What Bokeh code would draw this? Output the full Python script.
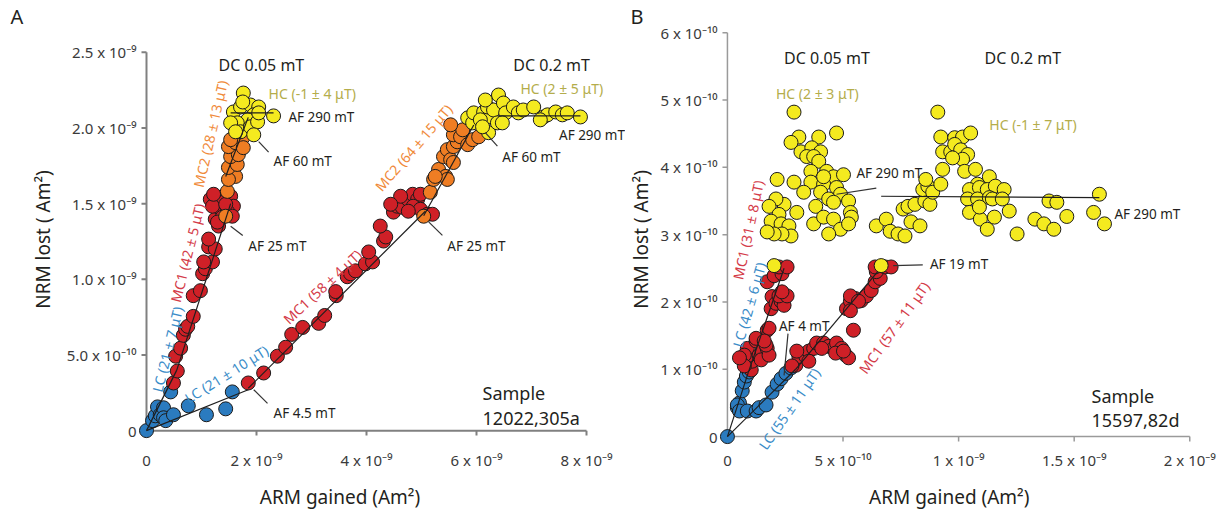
import math
from bokeh.plotting import figure
from bokeh.layouts import row
from bokeh.models import Range1d, FixedTicker, ColumnDataSource
from bokeh.core.properties import value
from bokeh.embed import file_html
from bokeh.resources import INLINE

FONT = "Noto Sans"
INK = "#231f20"
NBSP = "\u00a0"

# marker fills per demagnetisation component
FILL = {"LC": "#2b7bbf", "MC1": "#cf2027", "MC2": "#ef7d23", "HC": "#f4ea1f"}
# text colours for the component labels
TXT = {"LC": "#3a8cc8", "MC1": "#d43b49", "MC2": "#f08a3a", "HC": "#b4ad4b"}

# ---------------- Sample 12022,305a  (units of 1e-9 Am^2) ----------------
# DC 0.05 mT
a05_lc_arm = [0.00, 0.11, 0.16, 0.20, 0.25, 0.31, 0.31, 0.35, 0.44, 0.49]
a05_lc_nrm = [0.000, 0.066, 0.098, 0.157, 0.105, 0.151, 0.085, 0.066, 0.256, 0.105]
a05_mc1_arm = [0.49, 0.56, 0.53, 0.62, 0.67, 0.71, 0.75, 0.85, 0.85, 0.98, 1.02, 1.07, 1.20, 1.04,
               1.13, 1.25, 1.13, 1.31, 1.25, 1.16, 1.31, 1.40, 1.53, 1.58, 1.35, 1.47, 1.56, 1.38,
               1.29, 1.20, 1.44, 1.22]
a05_mc1_nrm = [0.315, 0.394, 0.492, 0.545, 0.630, 0.670, 0.689, 0.755, 0.892, 0.925, 1.037, 1.070,
               1.115, 1.115, 1.214, 1.201, 1.266, 1.352, 1.398, 1.529, 1.542, 1.509, 1.549, 1.483,
               1.463, 1.450, 1.417, 1.411, 1.378, 1.483, 1.496, 1.562]
a05_mc2_arm = [1.44, 1.47, 1.62, 1.49, 1.49, 1.65, 1.53, 1.67, 1.49, 1.62, 1.75, 1.53, 1.76]
a05_mc2_nrm = [1.417, 1.581, 1.680, 1.660, 1.739, 1.759, 1.811, 1.824, 1.877, 1.903, 1.936, 1.923, 1.870]
a05_hc_arm = [1.76, 1.58, 1.71, 1.89, 2.04, 2.31, 1.95, 1.84, 1.65, 1.53, 1.71, 1.89, 2.02, 2.04,
              1.62, 1.95, 1.75]
a05_hc_nrm = [2.231, 2.106, 2.139, 2.152, 2.139, 2.080, 2.087, 2.054, 2.034, 2.034, 1.975, 2.008,
              2.041, 2.100, 1.975, 1.955, 2.172]
# DC 0.2 mT
a20_lc_arm = [0.76, 1.09, 1.44, 1.56]
a20_lc_nrm = [0.164, 0.105, 0.144, 0.256]
a20_mc1_arm = [1.85, 2.13, 2.38, 2.53, 2.64, 2.84, 3.13, 3.24, 3.45, 3.44, 3.65, 3.71, 3.80, 3.98,
               4.11, 4.04, 4.31, 4.35, 4.25, 4.49, 4.56, 4.65, 4.75, 4.84, 4.93, 4.85, 4.98, 5.11,
               5.20, 4.76, 4.62, 4.98, 4.44]
a20_mc1_nrm = [0.315, 0.381, 0.492, 0.551, 0.636, 0.682, 0.709, 0.761, 0.892, 0.919, 1.017, 1.037,
               1.056, 1.102, 1.115, 1.181, 1.253, 1.280, 1.352, 1.444, 1.483, 1.476, 1.529, 1.562,
               1.529, 1.483, 1.463, 1.430, 1.430, 1.450, 1.549, 1.562, 1.496]
a20_mc2_arm = [5.04, 5.16, 5.22, 5.31, 5.44, 5.47, 5.25, 5.40, 5.47, 5.53, 5.58, 5.58, 5.65, 5.58,
               5.71, 5.84, 5.93, 5.75, 5.53, 6.04]
a20_mc2_nrm = [1.417, 1.575, 1.660, 1.726, 1.680, 1.660, 1.680, 1.811, 1.857, 1.791, 1.772, 1.877,
               1.909, 1.955, 1.942, 1.890, 1.923, 1.988, 2.021, 1.942]
a20_hc_arm = [5.84, 5.93, 5.95, 6.13, 6.25, 6.20, 6.07, 6.22, 6.40, 6.31, 6.16, 6.49, 6.53, 6.67,
              6.76, 6.85, 7.04, 7.22, 7.29, 7.44, 7.56, 7.65, 7.89, 7.16, 6.38, 6.11, 6.47]
a20_hc_nrm = [2.067, 2.034, 2.100, 2.106, 2.073, 2.139, 2.054, 1.969, 2.218, 2.119, 2.185, 2.165,
              2.100, 2.139, 2.100, 2.119, 2.139, 2.073, 2.087, 2.106, 2.087, 2.100, 2.073, 2.054,
              2.034, 2.008, 2.034]
# component fits (start/end of each line)
a_fit_x0 = [0.00, 0.55, 1.44, 1.53, 0.00, 1.85, 5.04, 6.40]
a_fit_y0 = [0.00, 0.40, 1.68, 2.10, 0.00, 0.28, 1.42, 2.08]
a_fit_x1 = [0.55, 1.53, 1.85, 2.31, 1.85, 5.07, 5.95, 7.89]
a_fit_y1 = [0.40, 1.50, 2.07, 2.10, 0.27, 1.45, 2.02, 2.08]
# leaders for the AF step labels
a_lead_x0 = [2.04, 1.53, 1.95, 6.16, 5.13]
a_lead_y0 = [1.91, 1.35, 0.27, 1.97, 1.38]
a_lead_x1 = [2.22, 1.75, 2.20, 6.38, 5.38]
a_lead_y1 = [1.84, 1.29, 0.18, 1.88, 1.29]
a_xticks = [0, 2, 4, 6, 8]
a_xtick_labels = ["0", "2 x 10⁻⁹", "4 x 10⁻⁹", "6 x 10⁻⁹", "8 x 10⁻⁹"]
a_yticks = [0, 0.5, 1.0, 1.5, 2.0, 2.5]
a_ytick_labels = ["0", "5.0 x 10⁻¹⁰", "1.0 x 10⁻⁹", "1.5 x 10⁻⁹", "2.0 x 10⁻⁹", "2.5 x 10⁻⁹"]

# ---------------- Sample 15597,82d  (units of 1e-10 Am^2) ----------------
b05_lc_arm = [0.00, 0.43, 0.52, 0.43, 0.52, 0.64, 0.73, 0.82, 0.94]
b05_lc_nrm = [0.00, 0.43, 0.50, 0.47, 0.38, 0.68, 0.81, 0.90, 0.96]
b05_mc1_arm = [1.03, 1.07, 0.94, 0.86, 1.24, 1.37, 1.50, 1.46, 1.72, 1.80, 1.67, 1.24, 1.72, 1.89,
               1.93, 2.10, 2.32, 2.45, 2.23, 2.58, 2.36, 1.72, 2.02, 2.36, 2.23, 2.58, 0.73, 0.73,
               0.52, 1.80, 1.59]
b05_mc1_nrm = [0.99, 1.12, 1.21, 1.31, 1.42, 1.21, 1.27, 1.14, 1.31, 1.21, 1.36, 1.46, 1.58, 1.90,
               2.08, 1.98, 2.01, 1.95, 2.09, 2.09, 2.15, 2.30, 2.39, 2.42, 2.52, 2.52, 1.21, 1.05,
               1.17, 1.61, 1.42]
b05_hc_arm = [2.02, 2.88, 3.09, 2.75, 3.95, 4.72, 3.18, 3.65, 4.03, 3.43, 3.73, 3.95, 2.15, 3.61,
              2.88, 3.61, 3.30, 4.29, 4.59, 5.02, 4.16, 4.72, 4.89, 4.03, 5.24, 3.82, 4.38, 2.45,
              2.10, 1.80, 3.00, 2.23, 1.89, 2.32, 2.66, 3.73, 4.16, 4.59, 5.32, 5.36, 4.89, 4.38,
              2.75, 2.36, 2.02, 1.72, 5.24, 4.59, 4.16]
b05_hc_nrm = [2.54, 4.82, 4.45, 4.37, 4.45, 4.51, 4.23, 4.29, 4.23, 4.16, 4.16, 4.09, 3.82, 3.94,
              3.78, 3.78, 3.63, 3.94, 3.86, 3.89, 3.75, 3.70, 3.60, 3.63, 3.50, 3.42, 3.53, 3.45,
              3.53, 3.42, 3.33, 3.30, 3.20, 3.16, 3.13, 3.16, 3.26, 3.23, 3.33, 3.26, 3.08, 3.01,
              2.98, 3.01, 3.01, 3.04, 3.16, 3.48, 3.86]
b20_lc_arm = [0.86, 1.24, 1.37, 1.67, 1.93, 2.15, 2.32, 2.53, 2.75]
b20_lc_nrm = [0.38, 0.38, 0.43, 0.47, 0.66, 0.78, 0.86, 0.94, 1.02]
b20_mc1_arm = [2.96, 3.09, 3.39, 3.52, 3.73, 3.86, 4.16, 4.38, 4.59, 4.72, 4.94, 5.11, 5.24, 4.68,
               4.08, 5.45, 5.15, 5.32, 5.54, 5.79, 6.01, 6.22, 6.39, 6.61, 6.44, 6.39, 6.82, 7.08,
               5.32, 5.67, 2.79, 3.52, 3.00, 5.02, 5.32]
b20_mc1_nrm = [1.06, 1.19, 1.19, 1.27, 1.31, 1.39, 1.39, 1.34, 1.31, 1.39, 1.31, 1.21, 1.17, 1.24,
               1.31, 1.58, 1.90, 2.01, 2.05, 2.02, 2.09, 2.17, 2.30, 2.35, 2.45, 2.52, 2.52, 2.52,
               2.09, 2.01, 1.05, 1.12, 1.27, 1.27, 1.87]
b20_hc_arm = [6.65, 6.44, 6.87, 7.04, 7.38, 7.68, 7.60, 7.81, 7.94, 8.33, 8.11, 8.54, 8.76, 8.45,
              8.67, 8.88, 8.58, 9.23, 9.31, 9.10, 9.23, 9.31, 9.66, 9.83, 10.17, 10.52, 9.83, 10.09,
              10.39, 10.17, 9.74, 10.26, 10.73, 11.33, 10.82, 10.47, 10.90, 11.24, 11.59, 11.97,
              10.39, 10.82, 11.33, 11.46, 11.89, 12.19, 10.47, 10.94, 11.55, 11.24, 10.90, 12.53,
              13.30, 13.69, 14.12, 13.91, 14.25, 14.68, 15.84, 16.09, 16.31]
b20_hc_nrm = [2.54, 3.13, 3.23, 3.05, 3.01, 2.98, 3.38, 3.42, 3.19, 3.13, 3.45, 3.50, 3.45, 3.67,
              3.72, 3.63, 3.82, 3.75, 3.97, 4.82, 4.45, 4.23, 4.23, 4.44, 4.45, 4.51, 4.34, 4.26,
              4.19, 4.12, 4.14, 3.94, 3.97, 3.86, 3.75, 3.67, 3.70, 3.67, 3.72, 3.67, 3.53, 3.53,
              3.55, 3.53, 3.53, 3.35, 3.33, 3.23, 3.26, 3.08, 3.41, 3.01, 3.23, 3.16, 3.08, 3.50,
              3.48, 3.27, 3.33, 3.60, 3.16]
b_fit_x0 = [0.00, 0.90, 0.00, 2.95, 6.65]
b_fit_y0 = [0.00, 0.95, 0.00, 1.00, 3.57]
b_fit_x1 = [0.90, 2.45, 2.95, 6.50, 16.09]
b_fit_y1 = [0.95, 2.50, 1.00, 2.45, 3.55]
b_lead_x0 = [4.72, 7.17, 2.62]
b_lead_y0 = [3.60, 2.54, 1.53]
b_lead_x1 = [6.44, 8.45, 2.45]
b_lead_y1 = [3.69, 2.55, 0.91]
b_xticks = [0, 5, 10, 15, 20]
b_xtick_labels = ["0", "5 x 10⁻¹⁰", "1 x 10⁻⁹", "1.5 x 10⁻⁹", "2 x 10⁻⁹"]
b_yticks = [0, 1, 2, 3, 4, 5, 6]
b_ytick_labels = ["0", "1 x 10⁻¹⁰", "2 x 10⁻¹⁰", "3 x 10⁻¹⁰", "4 x 10⁻¹⁰", "5 x 10⁻¹⁰", "6 x 10⁻¹⁰"]


def make_panel(letter, width, left, xr, yr, offset):
    # both panels share frame top (29 px) and bottom (452 px) in the row
    p = figure(width=width, height=512, x_range=Range1d(*xr), y_range=Range1d(*yr),
               output_backend="svg", toolbar_location=None, title=letter,
               min_border_left=left, min_border_right=0, min_border_top=29,
               min_border_bottom=60)
    p.outline_line_color = None
    p.grid.visible = False
    p.title.align = "left"
    p.title.offset = offset
    p.title.standoff = 0
    p.title.text_font = FONT
    p.title.text_font_size = "20px"
    p.title.text_font_style = "normal"
    p.title.text_color = INK
    return p


def style_axes(p, xt, xl, yt, yl, ylab_std, xlabel_pad):
    p.xaxis.ticker = FixedTicker(ticks=xt)
    p.yaxis.ticker = FixedTicker(ticks=yt)
    p.xaxis.major_label_overrides = dict(zip(xt, xl))
    p.yaxis.major_label_overrides = dict(zip(yt, yl))
    # trailing no-break spaces pull the centred title left, under the plotted axis
    p.xaxis.axis_label = "ARM gained (Am²)" + NBSP * xlabel_pad
    p.yaxis.axis_label = "NRM lost ( Am²)"
    for ax in (p.xaxis[0], p.yaxis[0]):
        ax.axis_line_color = None
        ax.major_tick_line_color = None
        ax.minor_tick_line_color = None
        ax.major_tick_out = 0
        ax.major_tick_in = 0
        ax.major_label_text_font = FONT
        ax.major_label_text_font_size = "15px"
        ax.major_label_text_color = "#3a3a3a"
        ax.axis_label_text_font = FONT
        ax.axis_label_text_font_size = "19px"
        ax.axis_label_text_font_style = "normal"
        ax.axis_label_text_color = INK
    p.xaxis.major_label_standoff = 0
    p.xaxis.axis_label_standoff = 11
    p.yaxis.major_label_standoff = 2
    p.yaxis.axis_label_standoff = ylab_std


def draw_axes(p, xt, yt, tick_dx, tick_dy, color, width):
    xmax, ymax = max(xt), max(yt)
    p.segment(x0=[0, 0], y0=[0, 0], x1=[0, xmax], y1=[ymax, 0], line_color=color, line_width=width)
    xs = [t for t in xt if t != 0]
    ys = [t for t in yt if t != 0]
    p.segment(x0=xs, y0=[0] * len(xs), x1=xs, y1=[-tick_dy] * len(xs), line_color=color, line_width=width)
    p.segment(x0=[-tick_dx] * len(ys), y0=ys, x1=[0] * len(ys), y1=ys, line_color=color, line_width=width)


def dots(p, xs, ys, comp):
    p.scatter(xs, ys, size=14, fill_color=FILL[comp], line_color="#1b1b1b", line_width=1)


def labels(p, xs, ys, texts, colors, sizes, angles, align):
    src = ColumnDataSource(dict(x=xs, y=ys, text=texts, color=colors,
                                size=[f"{s}px" for s in sizes],
                                angle=[math.radians(a) for a in angles]))
    p.text(x="x", y="y", text="text", text_color="color", text_font_size="size",
           angle="angle", text_font=value(FONT), text_align=align,
           text_baseline="middle", source=src)


# ---------------- panel A ----------------
pa = make_panel("A", 625, 138, (-0.14545, 8.70909), (-0.12467, 2.65092), -128)
style_axes(pa, a_xticks, a_xtick_labels, a_yticks, a_ytick_labels, 8, 17)
draw_axes(pa, a_xticks, a_yticks, 5 / 55, 5 / 152.4, "#808080", 2)
for arm, nrm, comp in [(a05_lc_arm, a05_lc_nrm, "LC"), (a20_lc_arm, a20_lc_nrm, "LC"),
                       (a05_mc1_arm, a05_mc1_nrm, "MC1"), (a20_mc1_arm, a20_mc1_nrm, "MC1"),
                       (a05_mc2_arm, a05_mc2_nrm, "MC2"), (a20_mc2_arm, a20_mc2_nrm, "MC2"),
                       (a05_hc_arm, a05_hc_nrm, "HC"), (a20_hc_arm, a20_hc_nrm, "HC")]:
    dots(pa, arm, nrm, comp)
pa.segment(x0=a_fit_x0, y0=a_fit_y0, x1=a_fit_x1, y1=a_fit_y1, line_color="#1e1e1e", line_width=1.2)
pa.segment(x0=a_lead_x0, y0=a_lead_y0, x1=a_lead_x1, y1=a_lead_y1, line_color="#333333", line_width=1.2)

labels(pa,
       [1.31, 6.67, 2.22, 6.80, 2.58, 2.31, 1.85, 2.31, 6.47, 5.47, 7.50, 6.11, 6.11],
       [2.415, 2.415, 2.23, 2.26, 2.07, 1.78, 1.22, 0.118, 1.81, 1.22, 1.955, 0.25, 0.085],
       ["DC 0.05 mT", "DC 0.2 mT", "HC (-1 ± 4 μT)", "HC (2 ± 5 μT)", "AF 290 mT", "AF 60 mT",
        "AF 25 mT", "AF 4.5 mT", "AF 60 mT", "AF 25 mT", "AF 290 mT", "Sample", "12022,305a"],
       [INK, INK, TXT["HC"], TXT["HC"], INK, INK, INK, INK, INK, INK, INK, INK, INK],
       [16, 16, 14, 14, 13.5, 13.5, 13.5, 13.5, 13.5, 13.5, 13.5, 18, 18],
       [0] * 13, "left")
labels(pa,
       [1.164, 0.745, 0.382, 1.455, 3.20, 4.855],
       [1.962, 1.175, 0.538, 0.374, 0.951, 1.870],
       ["MC2 (28 ± 13 μT)", "MC1 (42 ± 5 μT)", "LC (21 ± 7 μT)", "LC (21 ± 10 μT)",
        "MC1 (58 ± 4 μT)", "MC2 (64 ± 15 μT)"],
       [TXT["MC2"], TXT["MC1"], TXT["LC"], TXT["LC"], TXT["MC1"], TXT["MC2"]],
       [14] * 6, [77, 76, 76, 32, 43, 49], "center")

# ---------------- panel B ----------------
pb = make_panel("B", 598, 90, (-0.34335, 21.4592), (-0.19174, 6.04720), -89)
style_axes(pb, b_xticks, b_xtick_labels, b_yticks, b_ytick_labels, 3, 9)
draw_axes(pb, b_xticks, b_yticks, 5 / 23.3, 5 / 67.8, "#9a9a9a", 1.5)
for arm, nrm, comp in [(b05_lc_arm, b05_lc_nrm, "LC"), (b20_lc_arm, b20_lc_nrm, "LC"),
                       (b05_mc1_arm, b05_mc1_nrm, "MC1"), (b20_mc1_arm, b20_mc1_nrm, "MC1"),
                       (b05_hc_arm, b05_hc_nrm, "HC"), (b20_hc_arm, b20_hc_nrm, "HC")]:
    dots(pb, arm, nrm, comp)
pb.segment(x0=b_fit_x0, y0=b_fit_y0, x1=b_fit_x1, y1=b_fit_y1, line_color="#1e1e1e", line_width=1.2)
pb.segment(x0=b_lead_x0, y0=b_lead_y0, x1=b_lead_x1, y1=b_lead_y1, line_color="#333333", line_width=1.2)

labels(pb,
       [2.45, 11.12, 2.10, 11.33, 5.58, 16.74, 8.76, 2.23, 15.75, 15.75],
       [5.62, 5.62, 5.09, 4.63, 3.92, 3.30, 2.57, 1.64, 0.60, 0.24],
       ["DC 0.05 mT", "DC 0.2 mT", "HC (2 ± 3 μT)", "HC (-1 ± 7 μT)", "AF 290 mT", "AF 290 mT",
        "AF 19 mT", "AF 4 mT", "Sample", "15597,82d"],
       [INK, INK, TXT["HC"], TXT["HC"], INK, INK, INK, INK, INK, INK],
       [16, 16, 14, 14, 13.5, 13.5, 13.5, 13.5, 18, 18],
       [0] * 10, "left")
labels(pb,
       [0.90, 0.94, 2.68, 7.21],
       [3.07, 1.96, 0.413, 1.62],
       ["MC1 (31 ± 8 μT)", "LC (42 ± 6 μT)", "LC (55 ± 11 μT)", "MC1 (57 ± 11 μT)"],
       [TXT["MC1"], TXT["LC"], TXT["LC"], TXT["MC1"]],
       [14] * 4, [78, 74, 55, 54], "center")

layout = row(pa, pb)
open("out.html", "w").write(file_html(layout, INLINE))
